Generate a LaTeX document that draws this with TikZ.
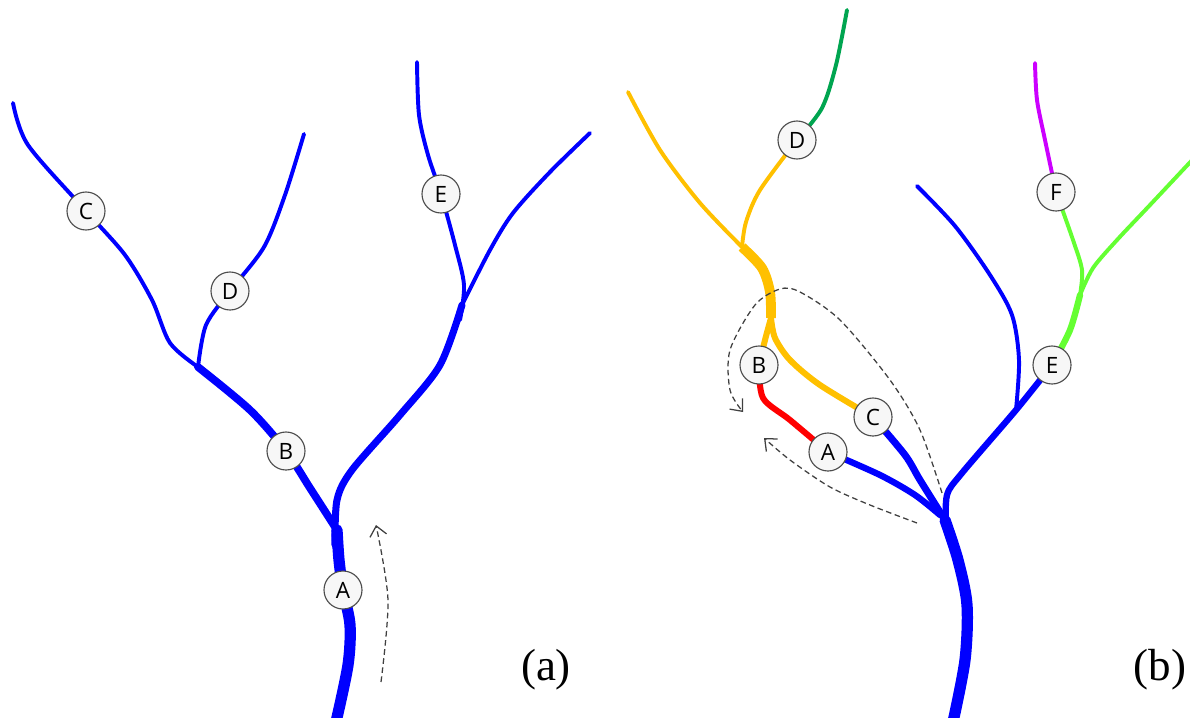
\documentclass[tikz,border=0pt]{standalone}
\usepackage{fontspec}
\setmainfont{Liberation Serif}
\newfontfamily\gaugefont{Open Sans}
\usetikzlibrary{arrows.meta}
\pgfdeclarelayer{background}
\pgfsetlayers{background,main}

\begin{document}
\begin{tikzpicture}[x=0.025cm, y=-0.025cm]
        \def\gaugesize{0.95cm}
        \tikzstyle{gauge} = [circle, draw=black!70, fill=black!3, line width=0.8pt, minimum size=\gaugesize, inner sep=0pt, font=\gaugefont\fontsize{16}{16}\selectfont]
        \tikzstyle{branch} = [line width=2.8pt, line cap=round, line join=round]
        \tikzstyle{flowarrow} = [dash pattern=on 4pt off 2.5pt, black!75, line width=0.9pt, -{Straight Barb[length=7pt,width=12pt,line width=0.9pt]}]
        \tikzstyle{caption} = [font=\fontsize{32}{34}\selectfont]
        \definecolor{rivblue}{RGB}{0,0,255}
        \definecolor{rivyellow}{RGB}{255,192,0}
        \definecolor{rivred}{RGB}{255,0,0}
        \definecolor{rivgreen}{RGB}{0,165,80}
        \definecolor{rivlime}{RGB}{100,255,50}
        \definecolor{rivmagenta}{RGB}{204,0,255}
        \useasboundingbox (0,0) rectangle (1190,717);

        % Gauges of panel (a)
        \node[gauge] (aA) at (343,590) {A};
        \node[gauge] (aB) at (286,451) {B};
        \node[gauge] (aC) at (86,211) {C};
        \node[gauge] (aD) at (230,291) {D};
        \node[gauge] (aE) at (441,194) {E};
        % Junctions of panel (a)
        \coordinate (aFork) at (337,530);
        \coordinate (aCD) at (198,367);
        \coordinate (aEJ) at (462,305);

        % Gauges of panel (b)
        \node[gauge] (bA) at (828,452) {A};
        \node[gauge] (bB) at (759,365) {B};
        \node[gauge] (bC) at (873,417) {C};
        \node[gauge] (bD) at (797,140) {D};
        \node[gauge] (bE) at (1052,365) {E};
        \node[gauge] (bF) at (1056,192) {F};
        % Junctions of panel (b)
        \coordinate (bFork) at (945,520);
        \coordinate (bTwig) at (1016,410);
        \coordinate (bGreen) at (1080,295);
        \coordinate (bBC) at (771,318);
        \coordinate (bDJ) at (742,247);

        \begin{pgfonlayer}{background}
        % Draw the river network of panel (a)
        \draw[branch, rivblue, line width=8pt] plot[smooth] coordinates {(336,722) (348,665) (350,625) (aA.center) (339,560) (aFork)};
        \draw[branch, rivblue, line width=5.5pt] plot[smooth] coordinates {(aFork) (310,488) (aB.center) (250,410) (aCD)};
        \draw[branch, rivblue, line width=5pt] plot[smooth] coordinates {(335,545) (337,500) (352,470) (400,415) (440,365) (aEJ)};
        \draw[branch, rivblue] plot[smooth] coordinates {(417,62) (419,115) (428,155) (aE.center) (455,245) (464,285) (460,320)};
        \draw[branch, rivblue] plot[smooth] coordinates {(aEJ) (490,250) (513,213) (550,172) (590,133)};
        \draw[branch, rivblue] plot[smooth] coordinates {(13,103) (28,145) (aC.center) (125,255) (152,300) (170,343) (aCD)};
        \draw[branch, rivblue] plot[smooth] coordinates {(aCD) (206,325) (aD.center) (264,247) (285,195) (304,134)};

        % Draw the river network of panel (b)
        \draw[branch, rivblue, line width=8pt] plot[smooth] coordinates {(953,722) (965,660) (967,605) (958,560) (bFork)};
        \draw[branch, rivblue, line width=4.5pt] plot[smooth] coordinates {(946,528) (947,495) (962,473) (bTwig) (bE.center)};
        \draw[branch, rivblue] plot[smooth] coordinates {(bTwig) (1019,360) (1012,315) (990,275) (955,226) (917,186)};
        \draw[branch, rivblue, line width=5pt] plot[smooth] coordinates {(bFork) (920,480) (905,455) (bC.center)};
        \draw[branch, rivblue, line width=4.5pt] plot[smooth] coordinates {(940,515) (915,495) (880,475) (bA.center)};
        \draw[branch, rivlime, line width=4.5pt] plot[smooth] coordinates {(bE.center) (1070,330) (bGreen)};
        \draw[branch, rivlime] plot[smooth] coordinates {(bGreen) (1082,270) (1073,240) (bF.center)};
        \draw[branch, rivlime] plot[smooth] coordinates {(bGreen) (1093,268) (1117,240) (1150,205) (1195,157)};
        \draw[branch, rivmagenta] plot[smooth] coordinates {(bF.center) (1045,140) (1037,100) (1035,63)};
        \draw[branch, rivyellow, line width=4.3pt] plot[smooth] coordinates {(bC.center) (820,385) (790,360) (775,338) (bBC)};
        \draw[branch, rivyellow, line width=4.3pt] plot[smooth] coordinates {(bB.center) (765,340) (bBC)};
        \draw[branch, rivyellow, line width=7pt, line cap=butt] plot[smooth] coordinates {(bBC) (770,292) (762,268) (bDJ)};
        \draw[branch, rivyellow] plot[smooth] coordinates {(bDJ) (700,203) (660,150) (628,92)};
        \draw[branch, rivyellow] plot[smooth] coordinates {(bDJ) (746,222) (760,190) (bD.center)};
        \draw[branch, rivgreen] plot[smooth] coordinates {(bD.center) (822,108) (836,65) (847,10)};
        \draw[branch, rivred, line width=4.3pt] plot[smooth] coordinates {(bB.center) (763,398) (790,420) (bA.center)};
        \end{pgfonlayer}

        % Draw the dashed flow arrows
        \draw[flowarrow] plot[smooth] coordinates {(381,682) (388,600) (376,525)};
        \draw[flowarrow] plot[smooth] coordinates {(942,493) (920,430) (890,380) (840,320) (800,292) (780,289) (755,305) (730,350) (730,390) (743,412)};
        \draw[flowarrow] plot[smooth] coordinates {(917,523) (870,505) (830,487) (790,460) (764,438)};

        % Panel captions
        \node[caption] (capa) at (546,670) {(a)};
        \node[caption] (capb) at (1160,670) {(b)};
    \end{tikzpicture}
\end{document}
